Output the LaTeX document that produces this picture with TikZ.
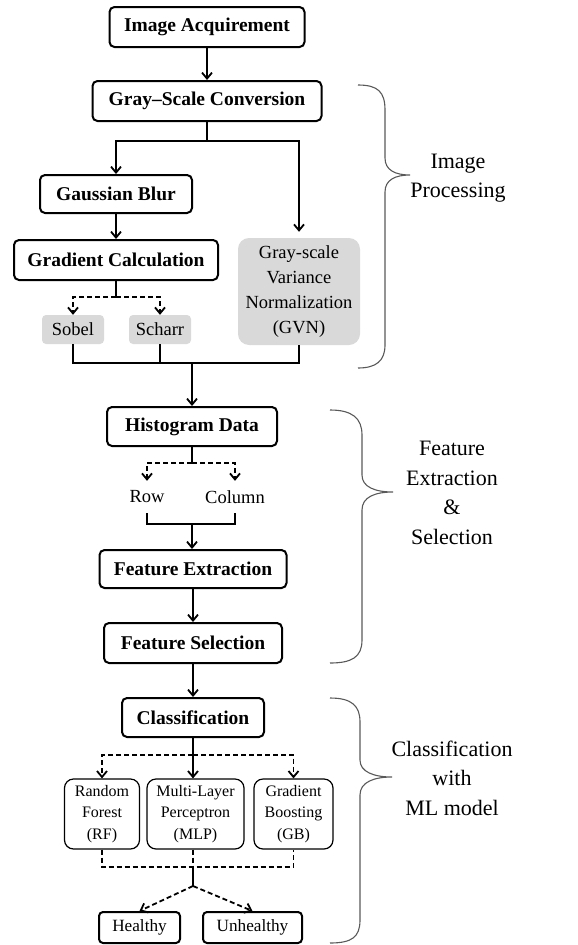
\documentclass[tikz,border=0pt]{standalone}
\usepackage{fontspec}
\setmainfont{LiberationSerif}[Extension=.ttf, UprightFont=*-Regular, BoldFont=*-Bold, ItalicFont=*-Italic, BoldItalicFont=*-BoldItalic]
\usetikzlibrary{arrows.meta}
\definecolor{boxgray}{RGB}{217,217,217}
\begin{document}
\begin{tikzpicture}[x=1pt,y=-1pt,
  bbox/.style={draw, line width=2pt, rounded corners=5pt, inner sep=0pt, font=\fontsize{19.5}{23}\selectfont\bfseries},
  gbox/.style={fill=boxgray, rounded corners=5pt, inner sep=0pt, font=\fontsize{18.5}{25}\selectfont, align=center},
  mbox/.style={draw, line width=1.2pt, rounded corners=9pt, inner sep=0pt, align=center, font=\fontsize{16}{21.5}\selectfont, minimum height=70},
  obox/.style={draw, line width=2pt, rounded corners=4pt, inner sep=0pt, font=\fontsize{17.2}{20}\selectfont, minimum height=31},
  plain/.style={inner sep=0pt, font=\fontsize{18.5}{22}\selectfont, minimum height=32},
  conn/.style={line width=1.8pt},
  arr/.style={conn, -{Straight Barb[length=6pt,width=10pt]}},
  dsh/.style={dash pattern=on 5pt off 3pt},
  brace/.style={draw=black!65, line width=1.1pt},
  lbl/.style={align=center, inner sep=0pt, font=\fontsize{22}{29.5}\selectfont}
]
\useasboundingbox (0,0) rectangle (578,945);

% nodes
\node[bbox, minimum width=195, minimum height=40] (acq) at (207,27) {Image Acquirement};
\node[bbox, minimum width=229, minimum height=40] (gray) at (207,101) {Gray–Scale Conversion};
\node[bbox, minimum width=152, minimum height=38] (blur) at (116,194) {Gaussian Blur};
\node[bbox, minimum width=204, minimum height=40] (grad) at (116,260) {Gradient Calculation};
\node[gbox, minimum width=122, minimum height=107, rounded corners=11pt] (gvn) at (299,291.5) {Gray-scale\\Variance\\Normalization\\(GVN)};
\node[gbox, minimum width=62, minimum height=29, rounded corners=4pt] (sobel) at (73,329.5) {Sobel};
\node[gbox, minimum width=62, minimum height=29, rounded corners=4pt] (scharr) at (160,329.5) {Scharr};

\node[bbox, minimum width=170, minimum height=39] (hist) at (192,426.5) {Histogram Data};
\node[plain] (row) at (147,497) {Row};
\node[plain] (col) at (235,497) {Column};
\node[bbox, minimum width=187, minimum height=38] (fext) at (193,569) {Feature Extraction};
\node[bbox, minimum width=178, minimum height=40] (fsel) at (193,643) {Feature Selection};

\node[bbox, minimum width=142, minimum height=39] (cls) at (193,717.5) {Classification};
\node[mbox, minimum width=75] (rf) at (102,814) {Random\\Forest\\(RF)};
\node[mbox, minimum width=97] (mlp) at (195.5,814) {Multi-Layer\\Perceptron\\(MLP)};
\node[mbox, minimum width=79] (gb) at (293.5,814) {Gradient\\Boosting\\(GB)};
\node[obox, minimum width=81] (healthy) at (139.5,927.5) {Healthy};
\node[obox, minimum width=99] (unhealthy) at (252.5,927.5) {Unhealthy};

% connectors - image processing
\draw[arr] (acq.south) -- (acq.south |- gray.north);
\coordinate (j1) at (207,141);
\draw[conn] (gray.south) -- (j1);
\draw[arr] (j1) -| (blur.north);
\draw[arr, shorten >=6pt] (j1) -| (gvn.north);
\draw[arr] (blur) -- (grad);
\coordinate (j2) at (116,297);
\draw[conn] (grad.south) -- (j2);
\draw[arr, dsh] (j2) -| (sobel.north);
\draw[arr, dsh] (j2) -| (scharr.north);
\coordinate (j3) at (192,363);
\draw[conn] (sobel.south) -- (sobel.south |- j3) -- (gvn.south |- j3) -- (gvn.south);
\draw[conn] (scharr.south) -- (scharr.south |- j3);
\draw[arr] (j3) -- (hist.north);

% feature extraction
\coordinate (j4) at (192,463);
\draw[conn] (hist.south) -- (j4);
\draw[arr, dsh] (j4) -| (row.north);
\draw[arr, dsh] (j4) -| (col.north);
\coordinate (j5) at (192,524);
\draw[conn] (row.south) -- (row.south |- j5) -- (col.south |- j5) -- (col.south);
\draw[arr] (j5) -- (j5 |- fext.north);
\draw[arr] (fext.south) -- (fext.south |- fsel.north);
\draw[arr] (fsel.south) -- (fsel.south |- cls.north);

% classification
\coordinate (j6) at (193,755);
\draw[conn] (cls.south) -- (j6);
\draw[arr, dsh] (j6) -| (rf.north);
\draw[arr] (j6) -- (j6 |- mlp.north);
\draw[arr, dsh] (j6) -| (gb.north);
\coordinate (j7) at (193,867);
\coordinate (j8) at (193,886);
\draw[conn, dsh] (rf.south) -- (rf.south |- j7) -- (gb.south |- j7) -- (gb.south);
\draw[conn, dsh] (j7 |- mlp.south) -- (j7);
\draw[conn] (j7) -- (j8);
\draw[arr, dsh] (j8) -- (healthy.north);
\draw[arr, dsh] (j8) -- (unhealthy.north);

% braces
\draw[brace] (358,85) .. controls (378,85) and (385,92) .. (385,110) -- (385,158)
  .. controls (385,170) and (395,175) .. (410,175)
  .. controls (395,175) and (385,180) .. (385,192) -- (385,345)
  .. controls (385,361) and (376,368) .. (358,368);
\draw[brace] (330,410) .. controls (352,410) and (362,418) .. (362,435) -- (362,475)
  .. controls (362,487) and (375,492) .. (393,492)
  .. controls (375,492) and (362,497) .. (362,510) -- (362,640)
  .. controls (362,657) and (352,663) .. (330,663);
\draw[brace] (330,698) .. controls (352,698) and (360,706) .. (360,722) -- (360,760)
  .. controls (360,772) and (374,777) .. (392,777)
  .. controls (374,777) and (360,782) .. (360,795) -- (360,920)
  .. controls (360,937) and (352,943) .. (330,943);

\node[lbl] (lip) at (458,178) {Image\\Processing};
\node[lbl] (lfe) at (452,493) {Feature\\Extraction\\\&\\Selection};
\node[lbl] (lcl) at (452,778) {Classification\\with\\ML model};
\end{tikzpicture}
\end{document}
